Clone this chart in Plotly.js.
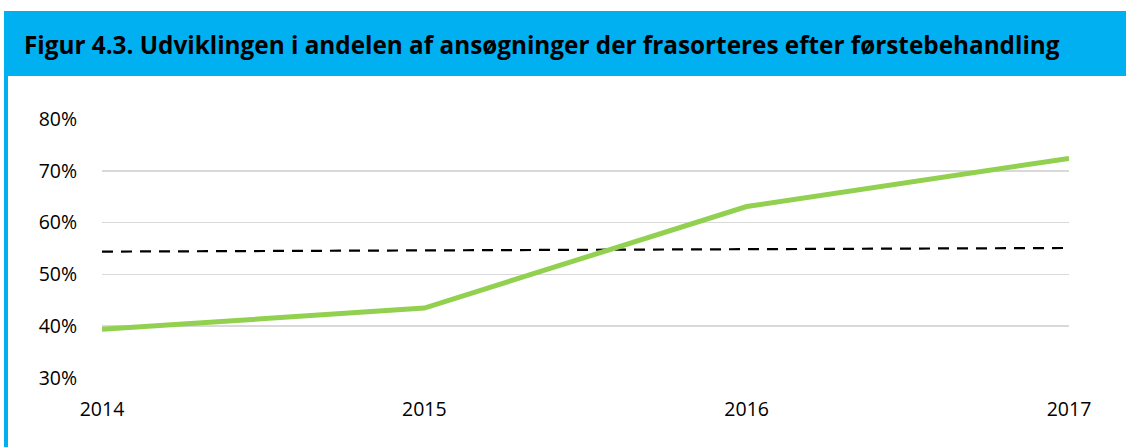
<!DOCTYPE html>
<html>
<head>
<meta charset="utf-8">
<script src="https://cdn.plot.ly/plotly-3.0.1.min.js"></script>
<style>
html,body{margin:0;padding:0;background:#fff;}
#chart{width:1126px;height:447px;}
</style>
</head>
<body>
<div id="chart"></div>
<script>
const years = ['2014', '2015', '2016', '2017'];
const shareRejected = [0.394, 0.435, 0.631, 0.724];
const averageLine = [0.544, 0.546, 0.548, 0.551];
const yTicks = [0.3, 0.4, 0.5, 0.6, 0.7, 0.8];
const yTickLabels = ['30%', '40%', '50%', '60%', '70%', '80%'];
const titleText = 'Figur 4.3. Udviklingen i andelen af ansøgninger der frasorteres efter førstebehandling';

const W = 1126, H = 447;
const M = {l: 102, r: 57, t: 119, b: 69};
const pw = W - M.l - M.r, ph = H - M.t - M.b;
const px = x => (x - M.l) / pw;
const py = y => (H - M.b - y) / ph;

const traces = [
  {
    x: years, y: averageLine, type: 'scatter', mode: 'lines',
    line: {color: '#000000', width: 2.2, dash: '11px,8px'},
    hoverinfo: 'skip', showlegend: false
  },
  {
    x: years, y: shareRejected, type: 'scatter', mode: 'lines',
    line: {color: '#92D050', width: 5},
    hoverinfo: 'skip', showlegend: false
  }
];

const layout = {
  width: W, height: H,
  margin: M,
  paper_bgcolor: '#ffffff', plot_bgcolor: '#ffffff',
  font: {family: 'Open Sans, sans-serif', size: 19, color: '#000000'},
  showlegend: false,
  title: {
    text: '<b>' + titleText + '</b>',
    font: {family: 'Open Sans, sans-serif', size: 24.3, color: '#000000'},
    x: 24 / W, xanchor: 'left', xref: 'container',
    y: 1 - 45 / H, yanchor: 'middle', yref: 'container'
  },
  xaxis: {
    type: 'category', categoryorder: 'array', categoryarray: years,
    range: [0, 3], showgrid: false, zeroline: false, showline: false,
    ticks: 'outside', ticklen: 14, tickcolor: 'rgba(0,0,0,0)',
    tickfont: {family: 'Open Sans, sans-serif', size: 19.5, color: '#000000'},
    fixedrange: true
  },
  yaxis: {
    range: [0.3, 0.8], tickvals: yTicks, ticktext: yTickLabels,
    showgrid: true, gridcolor: '#d9d9d9', gridwidth: 1.5,
    zeroline: false, showline: false,
    ticks: 'outside', ticklen: 20, tickcolor: 'rgba(0,0,0,0)',
    tickfont: {family: 'Open Sans, sans-serif', size: 19.5, color: '#000000'},
    fixedrange: true
  },
  shapes: [
    {type: 'rect', xref: 'paper', yref: 'paper', layer: 'below',
     x0: px(4), x1: px(W + 2), y0: py(76), y1: py(11),
     fillcolor: '#00B0F0', line: {width: 0}},
    {type: 'rect', xref: 'paper', yref: 'paper', layer: 'below',
     x0: px(4), x1: px(8), y0: py(H + 2), y1: py(76),
     fillcolor: '#00B0F0', line: {width: 0}}
  ]
};

Plotly.newPlot('chart', traces, layout, {staticPlot: true, displayModeBar: false});
</script>
</body>
</html>
